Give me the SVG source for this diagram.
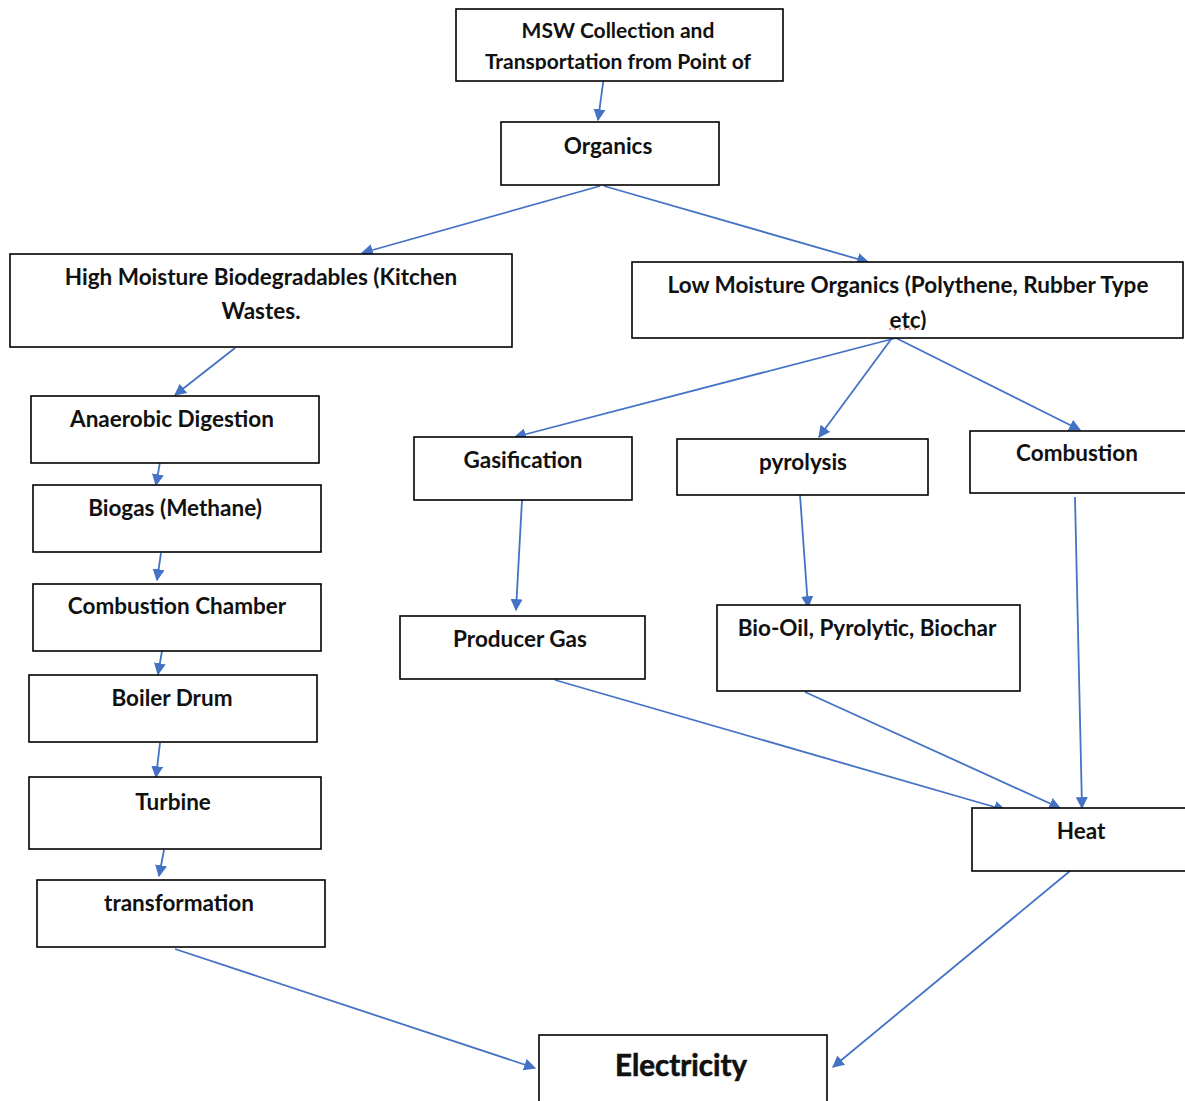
<svg xmlns="http://www.w3.org/2000/svg" width="1185" height="1101" viewBox="0 0 1185 1101">
<style>
.box{fill:#fff;stroke:#000;stroke-width:1.6}
.t{font-family:Lato,"Liberation Sans",sans-serif;font-weight:bold;font-size:22.5px;fill:#111;text-anchor:middle}
.c{stroke:#4472C4;stroke-width:1.8;fill:none;marker-end:url(#ah)}
</style>
<defs>
<marker id="ah" viewBox="0 0 10 10" refX="9" refY="5" markerWidth="12" markerHeight="12" markerUnits="userSpaceOnUse" orient="auto">
<path d="M0,0 L10,5 L0,10 z" fill="#4472C4"/>
</marker>
<clipPath id="clipMsw"><rect x="456" y="9" width="327" height="61"/></clipPath>
<clipPath id="clipLow"><rect x="632" y="262" width="551" height="68"/></clipPath>
</defs>
<g id="connectors">
<line class="c" x1="604" y1="76" x2="598" y2="120"/>
<line class="c" x1="600" y1="186" x2="362" y2="253"/>
<line class="c" x1="604" y1="186" x2="868" y2="262"/>
<line class="c" x1="235" y1="348" x2="175" y2="395"/>
<line class="c" x1="160" y1="462" x2="156" y2="485"/>
<line class="c" x1="161" y1="553" x2="157" y2="580"/>
<line class="c" x1="162" y1="651" x2="158" y2="674"/>
<line class="c" x1="160" y1="743" x2="156" y2="777"/>
<line class="c" x1="164" y1="850" x2="159" y2="876"/>
<line class="c" x1="175" y1="949" x2="535" y2="1068"/>
<line class="c" x1="1070" y1="871" x2="833" y2="1067"/>
<line class="c" x1="896" y1="338" x2="515" y2="437"/>
<line class="c" x1="892" y1="338" x2="819" y2="437"/>
<line class="c" x1="896" y1="338" x2="1080" y2="430"/>
<line class="c" x1="522" y1="500" x2="516" y2="610"/>
<line class="c" x1="800" y1="495" x2="808" y2="607"/>
<line class="c" x1="555" y1="680" x2="1005" y2="810"/>
<line class="c" x1="805" y1="692" x2="1060" y2="808"/>
<line class="c" x1="1075" y1="497" x2="1082" y2="808"/>
</g>
<g id="msw"><rect class="box" x="456" y="9" width="327" height="72"/>
<g clip-path="url(#clipMsw)"><text class="t" x="618" y="38" style="font-size:21px">MSW Collection and</text><text class="t" x="618" y="69" style="font-size:21px">Transportation from Point of</text></g></g>
<g id="organics"><rect class="box" x="501" y="122" width="218" height="63"/><text class="t" x="608" y="154">Organics</text></g>
<g id="high"><rect class="box" x="10" y="254" width="502" height="93"/><text class="t" x="261" y="285">High Moisture Biodegradables (Kitchen</text><text class="t" x="261" y="319">Wastes.</text></g>
<g id="low"><rect class="box" x="632" y="262" width="551" height="76"/><text class="t" x="908" y="293">Low Moisture Organics (Polythene, Rubber Type</text>
<g clip-path="url(#clipLow)"><text class="t" x="908" y="328">etc)</text></g>
<line x1="889" y1="329" x2="917" y2="329" stroke="#d03030" stroke-width="1" stroke-dasharray="2,3"/></g>
<g id="anaerobic"><rect class="box" x="31" y="396" width="288" height="67"/><text class="t" x="172" y="427">Anaerobic Digestion</text></g>
<g id="biogas"><rect class="box" x="33" y="485" width="288" height="67"/><text class="t" x="175" y="516">Biogas (Methane)</text></g>
<g id="chamber"><rect class="box" x="33" y="584" width="288" height="67"/><text class="t" x="177" y="614">Combustion Chamber</text></g>
<g id="boiler"><rect class="box" x="29" y="675" width="288" height="67"/><text class="t" x="172" y="706">Boiler Drum</text></g>
<g id="turbine"><rect class="box" x="29" y="777" width="292" height="72"/><text class="t" x="173" y="810">Turbine</text></g>
<g id="transformation"><rect class="box" x="37" y="880" width="288" height="67"/><text class="t" x="179" y="911">transformation</text></g>
<g id="gasification"><rect class="box" x="414" y="437" width="218" height="63"/><text class="t" x="523" y="468">Gasification</text></g>
<g id="pyrolysis"><rect class="box" x="677" y="439" width="251" height="56"/><text class="t" x="803" y="470">pyrolysis</text></g>
<g id="combustion"><rect class="box" x="970" y="431" width="230" height="62"/><text class="t" x="1077" y="461">Combustion</text></g>
<g id="producer"><rect class="box" x="400" y="616" width="245" height="63"/><text class="t" x="520" y="647">Producer Gas</text></g>
<g id="biooil"><rect class="box" x="717" y="605" width="303" height="86"/><text class="t" x="867" y="636">Bio-Oil, Pyrolytic, Biochar</text></g>
<g id="heat"><rect class="box" x="972" y="808" width="230" height="63"/><text class="t" x="1081" y="839">Heat</text></g>
<g id="electricity"><rect class="box" x="539" y="1035" width="288" height="80"/><text class="t" x="681" y="1076" style="font-size:29.5px;stroke:#111;stroke-width:0.6">Electricity</text></g>
</svg>
